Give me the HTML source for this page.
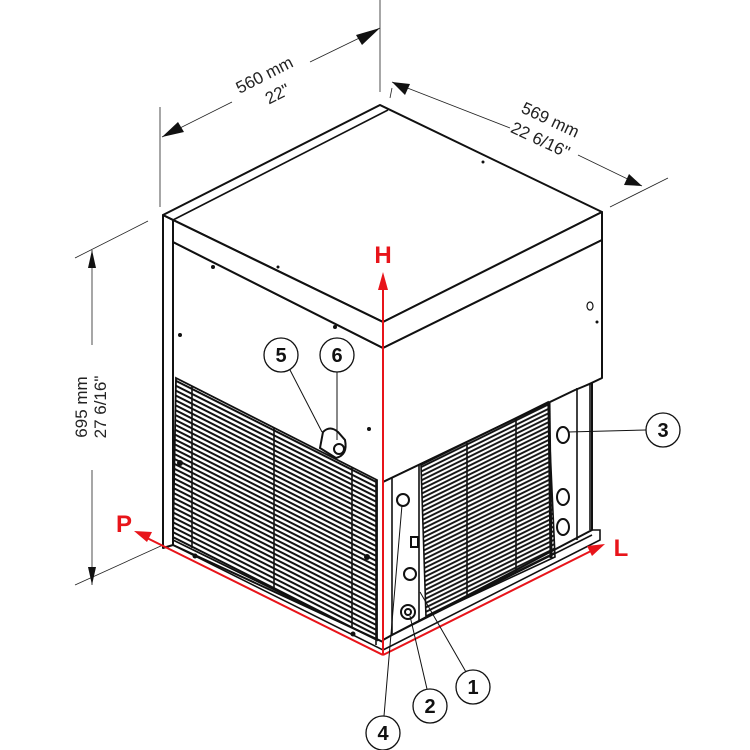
<!DOCTYPE html>
<html><head><meta charset="utf-8"><style>
html,body{margin:0;padding:0;background:#fff;width:750px;height:750px;overflow:hidden}
svg{display:block}
text{font-family:"Liberation Sans",Arial,sans-serif}
</style></head><body>
<svg width="750" height="750" viewBox="0 0 750 750" xmlns="http://www.w3.org/2000/svg">
<defs>
<pattern id="gl" width="10" height="4.4" patternUnits="userSpaceOnUse" patternTransform="rotate(26.8)">
<line x1="0" y1="1" x2="10" y2="1" stroke="#111" stroke-width="2"/>
</pattern>
<pattern id="gr" width="10" height="4" patternUnits="userSpaceOnUse" patternTransform="rotate(-26.2)">
<line x1="0" y1="1" x2="10" y2="1" stroke="#111" stroke-width="1.9"/>
</pattern>
</defs>

<g stroke="#222" stroke-width="0.8" fill="none">
<line x1="160" y1="107" x2="160" y2="207"/>
<line x1="380" y1="0" x2="380" y2="92"/>
<line x1="162" y1="137" x2="232" y2="102"/>
<line x1="310" y1="62" x2="380" y2="28"/>
<line x1="390" y1="98" x2="392" y2="88"/>
<line x1="392" y1="82" x2="510" y2="128"/>
<line x1="578" y1="155" x2="642" y2="186"/>
<line x1="610" y1="207" x2="668" y2="178"/>
<line x1="75" y1="258" x2="148" y2="221"/>
<line x1="75" y1="585" x2="163" y2="545"/>
<line x1="92" y1="250" x2="92" y2="345"/>
<line x1="92" y1="470" x2="92" y2="585"/>
</g>
<g fill="#111">
<polygon points="162,137 178,122 184,132"/>
<polygon points="380,28 356,35 362,45"/>
<polygon points="392,82 410,84 405,95"/>
<polygon points="642,186 624,185 629,174"/>
<polygon points="92,250 88,268 96,268"/>
<polygon points="92,585 88,567 96,567"/>
</g>
<text transform="translate(267,80) rotate(-27)" font-size="17" text-anchor="middle" fill="#222">560 mm</text>
<text transform="translate(280,99) rotate(-27)" font-size="17" text-anchor="middle" fill="#222">22"</text>
<text transform="translate(548,125) rotate(25)" font-size="17" text-anchor="middle" fill="#222">569 mm</text>
<text transform="translate(538,145) rotate(25)" font-size="17" text-anchor="middle" fill="#222">22 6/16"</text>
<text transform="translate(87,407) rotate(-90)" font-size="17" text-anchor="middle" fill="#222">695 mm</text>
<text transform="translate(106,407) rotate(-90)" font-size="17" text-anchor="middle" fill="#222">27 6/16"</text>

<g stroke="#111" stroke-width="2" fill="#fff" stroke-linejoin="round">
<polygon points="163,215 173,220 173,545 163,548"/>
<polygon points="173,242 383,348 383,642 173,545"/>
<polygon points="163,215 380,105 602,212 383,322"/>
<polygon points="173,220 383,322 383,348 173,242"/>
<polygon points="383,322 602,212 602,240 383,348"/>
<polygon points="383,348 602,240 602,378 383,482"/>
<polygon points="383,482 575,390 592,383 592,530 392,635 383,640"/>
</g>
<g stroke="#111" stroke-width="1.6" fill="none">
<line x1="163" y1="215" x2="383" y2="322"/>
<line x1="388" y1="110" x2="173" y2="220"/>
<line x1="577" y1="388" x2="577" y2="540"/>
<line x1="590" y1="383" x2="590" y2="530"/>
<line x1="392" y1="478" x2="392" y2="635"/>
<polyline points="383,650 600,540 600,530 592,530"/>
<line x1="392" y1="635" x2="592" y2="535"/>
<line x1="173" y1="545" x2="383" y2="650"/>
<line x1="376" y1="480" x2="376" y2="645"/>
<line x1="419" y1="465" x2="419" y2="620"/>
</g>
<polygon points="176,378 377,480 377,640 173,540" fill="url(#gl)" stroke="#111" stroke-width="1.8"/>
<g stroke="#111" stroke-width="1.6">
<line x1="192" y1="386" x2="192" y2="548"/>
<line x1="274" y1="428" x2="274" y2="588"/>
<line x1="352" y1="467" x2="352" y2="627"/>
</g>
<path d="M320,448 L323,432 Q330,425 338,432 L345,440 Q348,455 336,458 Z" fill="#fff" stroke="#111" stroke-width="2"/>
<circle cx="339" cy="449" r="5" fill="#fff" stroke="#111" stroke-width="2"/>
<polygon points="421,465 548,402 555,557 426,617" fill="url(#gr)" stroke="#111" stroke-width="1.6"/>
<g stroke="#111" stroke-width="1.6">
<line x1="467" y1="443" x2="467" y2="595"/>
<line x1="516" y1="418" x2="516" y2="572"/>
<line x1="549" y1="402" x2="551" y2="558" stroke-width="3"/>
</g>
<g fill="#fff" stroke="#111" stroke-width="2">
<ellipse cx="563" cy="435" rx="6" ry="8"/>
<ellipse cx="563" cy="497" rx="6" ry="8"/>
<ellipse cx="563" cy="527" rx="6" ry="8"/>
<circle cx="403" cy="500" r="6"/>
<circle cx="410" cy="574" r="6"/>
<circle cx="408" cy="612" r="7"/>
<circle cx="408" cy="612" r="3"/>
<rect x="411" y="537" width="7" height="10"/>
</g>
<g fill="#111">
<circle cx="213" cy="267" r="2"/><circle cx="278" cy="267" r="1.5"/><circle cx="180" cy="335" r="2"/>
<circle cx="335" cy="327" r="2"/><circle cx="483" cy="162" r="1.5"/><circle cx="597" cy="322" r="1.5"/>
<circle cx="195" cy="556" r="2.5"/><circle cx="353" cy="634" r="2.5"/><circle cx="369" cy="429" r="2"/>
<circle cx="180" cy="463" r="3"/><circle cx="367" cy="557" r="3"/>
</g>
<ellipse cx="590" cy="306" rx="3" ry="4" fill="none" stroke="#111" stroke-width="1.2"/>

<g stroke="#e8141a" stroke-width="2" fill="none">
<line x1="383" y1="655" x2="383" y2="285"/>
<line x1="383" y1="655" x2="145" y2="537"/>
<line x1="383" y1="655" x2="595" y2="549"/>
</g>
<g fill="#e8141a">
<polygon points="383,272 378,290 388,290"/>
<polygon points="134,531 152,532 147,542"/>
<polygon points="605,544 587,546 592,556"/>
</g>
<text x="383" y="263" font-size="24" font-weight="bold" fill="#e8141a" text-anchor="middle">H</text>
<text x="124" y="532" font-size="24" font-weight="bold" fill="#e8141a" text-anchor="middle">P</text>
<text x="621" y="556" font-size="24" font-weight="bold" fill="#e8141a" text-anchor="middle">L</text>

<g stroke="#111" stroke-width="1" fill="none">
<line x1="290" y1="370" x2="322" y2="432"/>
<line x1="337" y1="372" x2="337" y2="440"/>
<line x1="646" y1="430" x2="568" y2="432"/>
<line x1="466" y1="672" x2="420" y2="592"/>
<line x1="427" y1="689" x2="410" y2="616"/>
<line x1="384" y1="716" x2="402" y2="505"/>
</g>
<g fill="#fff" stroke="#111" stroke-width="1.3">
<circle cx="281" cy="355" r="17"/><circle cx="337" cy="355" r="17"/>
<circle cx="663" cy="430" r="17"/><circle cx="473" cy="687" r="17"/>
<circle cx="430" cy="706" r="17"/><circle cx="383" cy="733" r="17"/>
</g>
<g font-size="20" font-weight="bold" fill="#111" text-anchor="middle">
<text x="281" y="362">5</text><text x="337" y="362">6</text>
<text x="663" y="437">3</text><text x="473" y="694">1</text>
<text x="430" y="713">2</text><text x="383" y="740">4</text>
</g>
</svg>
</body></html>
